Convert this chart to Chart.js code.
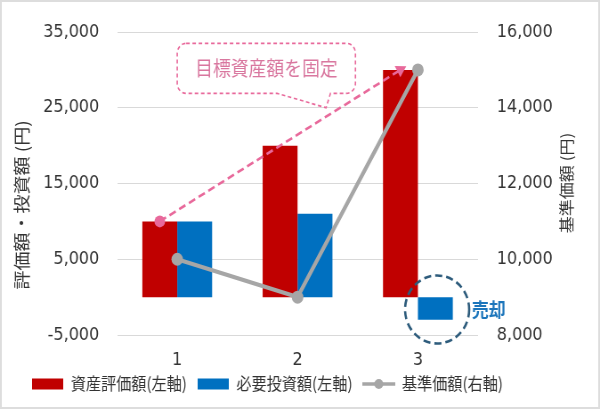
<!DOCTYPE html>
<html>
<head>
<meta charset="utf-8">
<script src="https://cdn.jsdelivr.net/npm/chart.js@4.4.0/dist/chart.umd.min.js"></script>
<style>
  html, body { margin: 0; padding: 0; background: #fff; }
  #wrap { width: 600px; height: 409px; position: relative; }
  /* the original picture is squeezed sideways a little; draw wider and scale down */
  #chart { width: 600px; height: 409px; display: block; }
</style>
</head>
<body>
<div id="wrap"><canvas id="chart" width="674" height="409" style="width:600px;height:409px"></canvas></div>
<script>
const categories = ['1', '2', '3'];
const assetValues = [10000, 20000, 30000];     // 資産評価額(左軸)
const investValues = [10000, 11000, -3000];    // 必要投資額(左軸)
const basePrices = [10000, 9000, 15000];       // 基準価額(右軸)
const targetValues = [10000, 20000, 30000];    // 目標資産額 (dashed)
const leftTicks = [-5000, 5000, 15000, 25000, 35000];
const rightTicks = [8000, 10000, 12000, 14000, 16000];

const seriesNames = ['資産評価額(左軸)', '必要投資額(左軸)', '基準価額(右軸)'];
const leftTitle = '評価額・投資額 (円)';
const rightTitle = '基準価額 (円)';
const calloutText = '目標資産額を固定';
const sellText = '売却';

const RED = '#C00000', BLUE = '#0070C0', GRAY = '#A6A6A6', PINK = '#E8699B';
const TEXT = '#333333';
const TICK_FONT = { family: 'DejaVu Sans', size: 18 };
const CJK = '"Noto Sans CJK JP", sans-serif';

// small legend marker for the line series: line with a dot
const lineMarker = document.createElement('canvas');
lineMarker.width = 37; lineMarker.height = 12;
(function () {
    const c = lineMarker.getContext('2d');
    c.strokeStyle = GRAY; c.lineWidth = 3.5;
    c.beginPath(); c.moveTo(0, 6); c.lineTo(37, 6); c.stroke();
    c.fillStyle = GRAY;
    c.beginPath(); c.arc(18.5, 6, 5, 0, Math.PI * 2); c.fill();
})();

// the target line runs over the centre of the red bars
const alignTarget = {
    id: 'alignTarget',
    afterDatasetsUpdate(chart) {
        const red = chart.getDatasetMeta(0).data;
        chart.getDatasetMeta(3).data.forEach((pt, i) => { if (red[i]) pt.x = red[i].x; });
    }
};

// pull the legend up a bit, closer to the category labels
const legendNudge = {
    id: 'legendNudge',
    afterLayout(chart) {
        chart.legend.top -= 6.5;
        chart.legend.bottom -= 6.5;
    }
};

const decorations = {
    id: 'decorations',
    afterDraw(chart) {
        const ctx = chart.ctx;
        const x = chart.scales.x, yl = chart.scales.y;
        ctx.save();

        // frame
        ctx.strokeStyle = '#DDDDDD'; ctx.lineWidth = 2;
        ctx.strokeRect(1, 1, chart.width - 2, chart.height - 2);

        // axis titles (both read bottom to top)
        ctx.fillStyle = TEXT;
        ctx.textAlign = 'center'; ctx.textBaseline = 'middle';
        ctx.save();
        ctx.font = '19px ' + CJK;
        ctx.translate(25, 205);
        ctx.rotate(-Math.PI / 2);
        ctx.fillText(leftTitle, 0, 0);
        ctx.restore();
        ctx.save();
        ctx.font = '17px ' + CJK;
        ctx.translate(637, 183);
        ctx.rotate(-Math.PI / 2);
        ctx.fillText(rightTitle, 0, 0);
        ctx.restore();

        // callout box
        const c0 = x.getPixelForValue(0), c1 = x.getPixelForValue(1);
        const bx0 = c0, bx1 = c1 + 65;
        const by0 = yl.getPixelForValue(33500), by1 = yl.getPixelForValue(26900);
        const tipX = c1 + 32, tipY = yl.getPixelForValue(25000);
        const r = 10;
        ctx.strokeStyle = PINK; ctx.lineWidth = 1.6; ctx.setLineDash([4, 3]);
        ctx.beginPath();
        ctx.moveTo(bx0 + r, by0);
        ctx.lineTo(bx1 - r, by0);
        ctx.arcTo(bx1, by0, bx1, by0 + r, r);
        ctx.lineTo(bx1, by1 - r);
        ctx.arcTo(bx1, by1, bx1 - r, by1, r);
        ctx.lineTo(c1 + 37, by1);
        ctx.lineTo(tipX, tipY);
        ctx.lineTo(c1 - 23, by1);
        ctx.lineTo(bx0 + r, by1);
        ctx.arcTo(bx0, by1, bx0, by1 - r, r);
        ctx.lineTo(bx0, by0 + r);
        ctx.arcTo(bx0, by0, bx0 + r, by0, r);
        ctx.closePath();
        ctx.stroke();
        ctx.setLineDash([]);
        ctx.fillStyle = '#D9779F';
        ctx.font = '20px ' + CJK;
        ctx.fillText(calloutText, (bx0 + bx1) / 2, (by0 + by1) / 2);

        // dashed circle round the sold bar
        const bar = chart.getDatasetMeta(1).data[2];
        const cx = bar.x + 2, cy = (bar.y + bar.base) / 2 + 1;
        ctx.strokeStyle = '#2E5C7C'; ctx.lineWidth = 2.6; ctx.setLineDash([8, 4.5]);
        ctx.beginPath(); ctx.ellipse(cx, cy, 36, 34, 0, 0, Math.PI * 2); ctx.stroke();
        ctx.setLineDash([]);
        ctx.fillStyle = '#1B75BB';
        ctx.font = 'bold 19px ' + CJK;
        ctx.textAlign = 'left';
        ctx.fillText(sellText, cx + 39, cy);

        ctx.restore();
    }
};

new Chart(document.getElementById('chart'), {
    type: 'bar',
    data: {
        labels: categories,
        datasets: [
            { label: seriesNames[0], data: assetValues, backgroundColor: RED, yAxisID: 'y', order: 3 },
            { label: seriesNames[1], data: investValues, backgroundColor: BLUE, yAxisID: 'y', order: 3 },
            { type: 'line', label: seriesNames[2], data: basePrices, yAxisID: 'y1', order: 2,
              borderColor: GRAY, backgroundColor: GRAY, borderWidth: 4.2, tension: 0,
              pointRadius: 6.5, pointBackgroundColor: GRAY, pointBorderWidth: 0 },
            { type: 'line', label: 'target', data: targetValues, yAxisID: 'y', order: 1,
              borderColor: PINK, backgroundColor: PINK, borderWidth: 2.6, borderDash: [8, 4.5],
              pointStyle: ['circle', false, 'triangle'], pointRadius: [6, 0, 7.5],
              rotation: [0, 0, 61], pointBorderWidth: 0 }
        ]
    },
    options: {
        responsive: false,
        animation: false,
        datasets: { bar: { categoryPercentage: 0.58, barPercentage: 1 } },
        layout: { padding: { left: 24, right: 52, top: 32, bottom: 0 } },
        plugins: {
            tooltip: { enabled: false },
            legend: {
                position: 'bottom',
                align: 'start',
                labels: {
                    usePointStyle: true, pointStyleWidth: 35, boxWidth: 35, boxHeight: 11,
                    padding: 12, color: TEXT,
                    font: { family: CJK, size: 17 },
                    filter: item => item.datasetIndex < 3,
                    sort: (a, b) => a.datasetIndex - b.datasetIndex,
                    generateLabels(chart) {
                        const items = Chart.defaults.plugins.legend.labels.generateLabels(chart);
                        items.forEach(it => {
                            it.pointStyle = it.datasetIndex === 2 ? lineMarker : 'rect';
                            it.lineWidth = 0;
                        });
                        return items;
                    }
                }
            }
        },
        scales: {
            x: {
                grid: { display: false, drawTicks: false },
                border: { display: false },
                afterFit: s => { s.height = 35; },
                ticks: { color: TEXT, font: TICK_FONT, padding: 15 }
            },
            y: {
                position: 'left', min: -5000, max: 35000,
                afterBuildTicks: s => { s.ticks = leftTicks.map(v => ({ value: v })); },
                afterFit: s => { s.width = 107.5; },
                grid: { color: '#D9D9D9', drawTicks: false },
                border: { display: false },
                ticks: { color: TEXT, font: TICK_FONT, padding: 20,
                         callback: v => v.toLocaleString('en-US') }
            },
            y1: {
                position: 'right', min: 8000, max: 16000,
                afterBuildTicks: s => { s.ticks = rightTicks.map(v => ({ value: v })); },
                afterFit: s => { s.width = 85; },
                grid: { display: false, drawTicks: false },
                border: { display: false },
                ticks: { color: TEXT, font: TICK_FONT, padding: 21,
                         callback: v => v.toLocaleString('en-US') }
            }
        }
    },
    plugins: [alignTarget, legendNudge, decorations]
});
</script>
</body>
</html>
